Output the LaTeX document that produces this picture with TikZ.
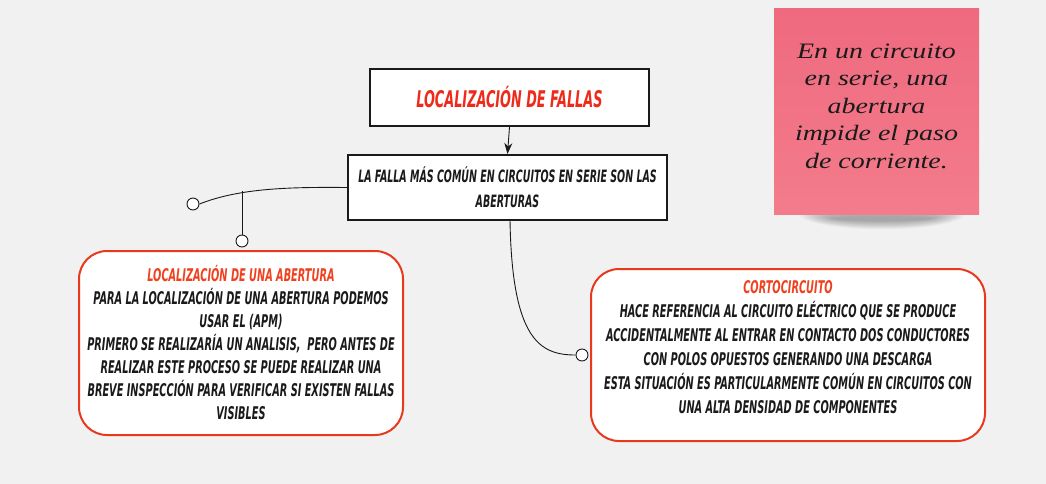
\documentclass[tikz,border=0pt]{standalone}
\usepackage{fontspec}
\usetikzlibrary{arrows.meta}
\newfontfamily\bang[FakeStretch=0.62]{DejaVu Sans Condensed Bold Oblique}
\newfontfamily\hand[FakeStretch=1.27]{Liberation Serif Italic}
\definecolor{bg}{HTML}{F1F1F1}
\definecolor{titlered}{HTML}{EE2A1B}
\definecolor{subred}{HTML}{F0401E}
\definecolor{boxred}{HTML}{E8391F}
\definecolor{ink}{HTML}{1A1A1A}
\definecolor{stickytop}{HTML}{EF6A7F}
\definecolor{stickybot}{HTML}{F37C8B}
\tikzset{
  sqbox/.style={draw=ink, line width=2.2pt, fill=white, inner sep=2pt, align=center},
  rbox/.style={draw=boxred, line width=2pt, fill=white, rounded corners=28pt, align=center, inner sep=2pt},
  conn/.style={draw=ink, line width=0.9pt},
  knob/.style={circle, draw=ink, line width=0.9pt, fill=white, minimum size=12pt, inner sep=0pt},
  bodytxt/.style={font=\bang\fontsize{17.5}{23}\selectfont, text=ink, align=center},
}
\begin{document}
\begin{tikzpicture}[x=1pt,y=-1pt]
\fill[bg] (0,0) rectangle (1046,484);
\useasboundingbox (0,0) rectangle (1046,484);
% sticky note shadow
\foreach \i in {1,...,14}{
  \fill[black, opacity=0.022] (882,{213+\i*0.4}) ellipse ({86-\i*2.6} and {17-\i*1.05});
}
\shade[top color=stickytop, bottom color=stickybot] (774,9) rectangle (979,214);
\node[font=\hand\fontsize{22}{27.5}\selectfont, text=ink, align=center] (note) at (876.5,106) {En un circuito\\en serie, una\\abertura\\impide el paso\\de corriente.};
% boxes
\node[sqbox, minimum width=279pt, minimum height=57pt, font=\bang\fontsize{23}{26}\selectfont, text=titlered] (top) at (509.5,97.5) {LOCALIZACIÓN DE FALLAS};
\node[sqbox, minimum width=319pt, minimum height=65pt, line width=2pt, font=\bang\fontsize{17}{25}\selectfont, text=ink] (mid) at (507.5,187.5) {LA FALLA MÁS COMÚN EN CIRCUITOS EN SERIE SON LAS\\ABERTURAS};
\node[rbox, minimum width=324pt, minimum height=184pt, bodytxt] (left) at (241,343)
 {\textcolor{subred}{LOCALIZACIÓN DE UNA ABERTURA}\\PARA LA LOCALIZACIÓN DE UNA ABERTURA PODEMOS\\USAR EL (APM)\\PRIMERO SE REALIZARÍA UN ANALISIS,\ \ PERO ANTES DE\\REALIZAR ESTE PROCESO SE PUEDE REALIZAR UNA\\BREVE INSPECCIÓN PARA VERIFICAR SI EXISTEN FALLAS\\VISIBLES};
\node[rbox, minimum width=394pt, minimum height=172pt] (right) at (788,355) {};
\node[bodytxt, font=\bang\fontsize{17.5}{24}\selectfont] (righttxt) at (788,347)
 {\textcolor{subred}{CORTOCIRCUITO}\\HACE REFERENCIA AL CIRCUITO ELÉCTRICO QUE SE PRODUCE\\ACCIDENTALMENTE AL ENTRAR EN CONTACTO DOS CONDUCTORES\\CON POLOS OPUESTOS GENERANDO UNA DESCARGA\\ESTA SITUACIÓN ES PARTICULARMENTE COMÚN EN CIRCUITOS CON\\UNA ALTA DENSIDAD DE COMPONENTES};
% connectors
\draw[conn, -{Stealth[length=11pt,width=8pt]}] (top.south) -- (mid.north);
\node[knob] (k1) at (193,204) {};
\node[knob] (k2) at (242,241) {};
\node[knob] (k3) at (582,355) {};
\coordinate (j1) at (242,191);
\coordinate (m1) at (510,220);
\draw[conn] (mid.west) .. controls (290,187) and (240,188) .. (k1.east);
\draw[conn] (j1) -- (k2.north);
\draw[conn] (m1) .. controls (512,340) and (540,355) .. (k3.west);
\end{tikzpicture}
\end{document}
